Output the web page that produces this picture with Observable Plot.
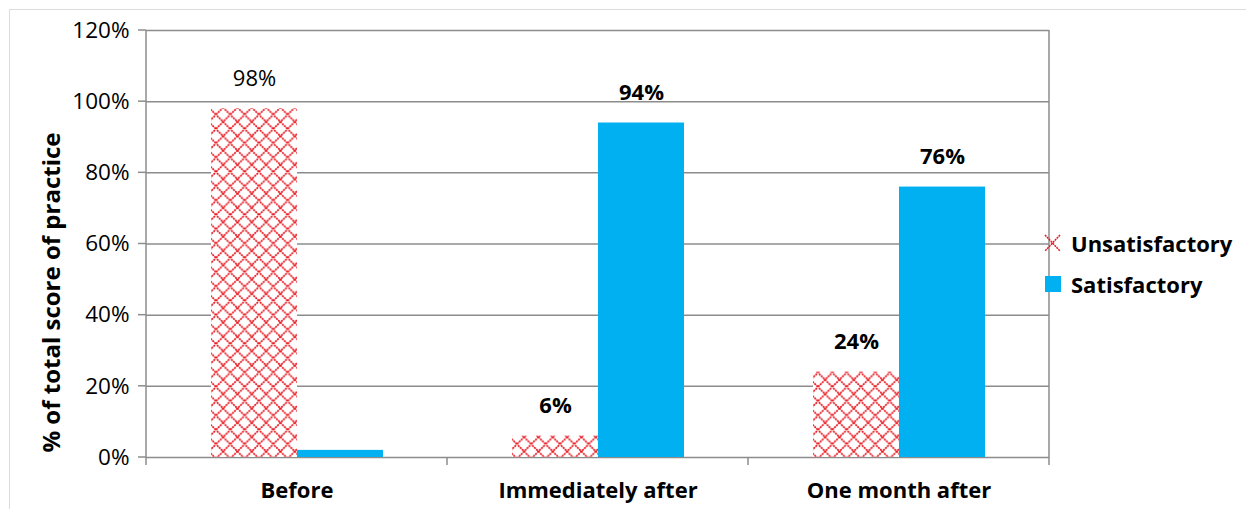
<!DOCTYPE html>
<html><head><meta charset="utf-8">
<script src="https://cdn.jsdelivr.net/npm/d3@7"></script>
<script src="https://cdn.jsdelivr.net/npm/@observablehq/plot@0.6"></script>
<style>
html,body{margin:0;padding:0;background:#fff;}
#wrap{position:relative;width:1246px;height:509px;font-family:"Open Sans", sans-serif;overflow:hidden;}
#border{position:absolute;left:9px;top:9px;right:-10px;bottom:-10px;border-top:1.5px solid #dcdcdc;border-left:1.5px solid #dcdcdc;}
#chart{position:absolute;left:0;top:0;}
.leg{position:absolute;display:flex;align-items:center;font-weight:bold;font-size:22px;color:#000;}
.leg svg{margin-right:10px;}
</style></head>
<body>
<svg width="0" height="0" style="position:absolute">
  <defs>
    <pattern id="xhatch" patternUnits="userSpaceOnUse" width="14.33" height="14.33">
      <rect width="14.33" height="14.33" fill="#fff"/>
      <path d="M-1,-1L15.33,15.33M15.33,-1L-1,15.33" stroke="#e8141c" stroke-width="1.7" stroke-dasharray="2 0.8" fill="none"/>
    </pattern>
  </defs>
</svg>
<div id="wrap">
  <div id="border"></div>
  <div id="chart"></div>
  <div class="leg" style="left:1044px;top:232px;height:22px;">
    <svg width="17" height="20"><path d="M1,2L16,18M16,2L1,18" stroke="#e8141c" stroke-width="1.5" stroke-dasharray="2 0.8" fill="none"/></svg><span>Unsatisfactory</span>
  </div>
  <div class="leg" style="left:1045px;top:273px;height:22px;">
    <svg width="16" height="16"><rect width="16" height="16" fill="#00b0f0"/></svg><span>Satisfactory</span>
  </div>
</div>
<script>
const categories = ["Before", "Immediately after", "One month after"];
const series = ["Unsatisfactory", "Satisfactory"];
const unsatisfactory = [98, 6, 24];
const satisfactory = [2, 94, 76];
const unsatisfactoryLabels = ["98%", "6%", "24%"];
const satisfactoryLabels = ["", "94%", "76%"];
const yTicks = [0, 20, 40, 60, 80, 100, 120];
const yTickLabels = ["0%", "20%", "40%", "60%", "80%", "100%", "120%"];
const yTitle = "% of total score of practice";

const rows = [];
categories.forEach((c, i) => {
  rows.push({category: c, series: series[0], value: unsatisfactory[i], label: unsatisfactoryLabels[i]});
  rows.push({category: c, series: series[1], value: satisfactory[i], label: satisfactoryLabels[i]});
});
const labelled = rows.filter(d => d.label !== "");

const plot = Plot.plot({
  width: 1246, height: 509,
  marginTop: 30, marginBottom: 52, marginLeft: 145, marginRight: 197,
  style: {fontFamily: "'Open Sans', sans-serif", fontSize: "20px", color: "#000", background: "transparent"},
  fx: {domain: categories, padding: 0, label: null, axis: null},
  x: {domain: series, paddingInner: 0, paddingOuter: 0.75, axis: null},
  y: {domain: [0, 120], axis: null},
  marks: [
    Plot.ruleY(yTicks, {stroke: "#8c8c8c", strokeWidth: 1.5}),
    Plot.barY(rows.filter(d => d.series === series[0]), {fx: "category", x: "series", y: "value", fill: "url(#xhatch)"}),
    Plot.barY(rows.filter(d => d.series === series[1]), {fx: "category", x: "series", y: "value", fill: "#00b0f0"}),
    Plot.text(labelled.filter(d => d.category === categories[0]), {fx: "category", x: "series", y: "value", text: "label", dy: -30, fontSize: 22, fontWeight: "normal", fill: "#000"}),
    Plot.text(labelled.filter(d => d.category !== categories[0]), {fx: "category", x: "series", y: "value", text: "label", dy: -30, fontSize: 22, fontWeight: "bold", fill: "#000"}),
    Plot.axisFx({anchor: "bottom", domain: categories, tickSize: 0, tickPadding: 25, label: null, fontWeight: "bold", fontSize: 22, fill: "#000"}),
    Plot.axisY({anchor: "left", ticks: yTicks, tickFormat: (d) => yTickLabels[yTicks.indexOf(d)], tickSize: 0, tickPadding: 17, label: null, fontSize: 22.5, fill: "#000"})
  ]
});
document.getElementById("chart").appendChild(plot);

// frame lines and category boundary ticks, from the library's scales
const fxs = plot.scale("fx"), ys = plot.scale("y");
const y0 = ys.apply(0), yTop = ys.apply(120);
const bounds = categories.map(c => fxs.apply(c));
bounds.push(fxs.apply(categories[categories.length - 1]) + fxs.bandwidth);
const svg = d3.select(plot);
const g = svg.append("g").attr("stroke", "#8c8c8c").attr("stroke-width", 1.5);
bounds.forEach((x, i) => {
  const full = i === 0 || i === bounds.length - 1;
  g.append("line").attr("x1", x).attr("x2", x).attr("y1", full ? yTop : y0).attr("y2", y0 + 8);
});
yTicks.forEach(t => {
  g.append("line").attr("x1", bounds[0] - 8).attr("x2", bounds[0]).attr("y1", ys.apply(t)).attr("y2", ys.apply(t));
});
svg.append("text")
  .attr("transform", `translate(50,${(y0 + yTop) / 2 + 49}) rotate(-90)`)
  .attr("text-anchor", "middle").attr("dominant-baseline", "central")
  .attr("font-weight", "bold").attr("font-size", 24).attr("fill", "#000")
  .text(yTitle);
</script>
</body></html>
